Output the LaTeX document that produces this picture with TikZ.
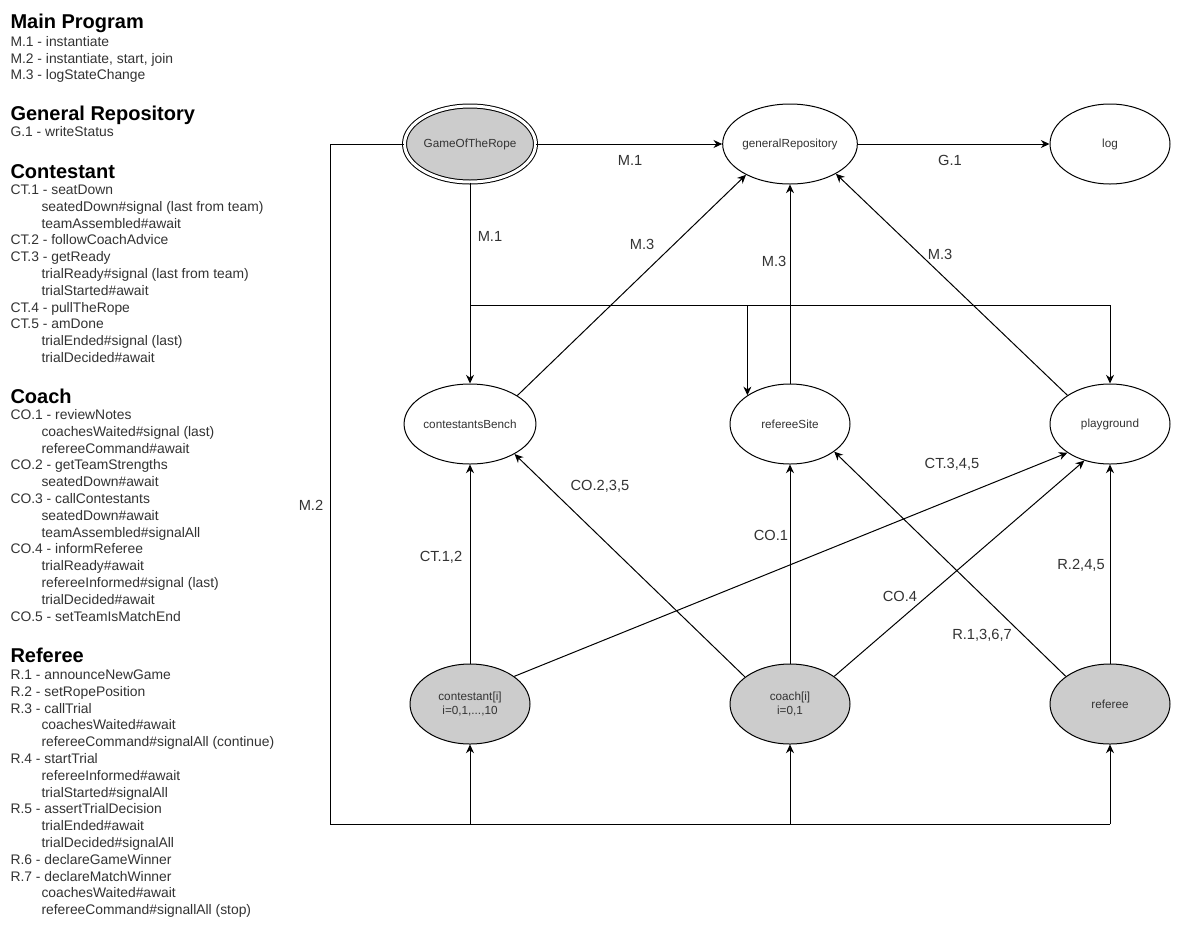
\documentclass[tikz,border=0pt]{standalone}
\usepackage{fontspec}
\setmainfont{Liberation Sans}
\usetikzlibrary{arrows.meta,shapes.geometric}
\definecolor{ctext}{HTML}{333333}
\definecolor{cgray}{HTML}{CCCCCC}
\newcommand\indt{\hspace*{23.25pt}}
\newcommand\rows[1]{\begin{tabular}[t]{@{}l@{}}#1\end{tabular}}

\begin{document}
\begin{tikzpicture}[x=0.75pt, y=-0.75pt, line width=0.75pt,
  state/.style={ellipse, draw, minimum width=90pt, minimum height=60pt, inner sep=0pt,
                align=center, text=ctext, font=\fontsize{8.8}{10.5}\selectfont},
  actor/.style={state, fill=cgray},
  mainprog/.style={actor, double=white, double distance=2.25pt,
                   minimum width=87pt, minimum height=57pt},
  arr/.style={-{Stealth[length=6.5pt,width=6pt]}},
  lbl/.style={inner sep=0pt, text=ctext, font=\fontsize{11}{13}\selectfont},
  hd/.style={anchor=base west, inner sep=0pt, font=\fontsize{15}{18}\selectfont\bfseries},
  items/.style={anchor=base west, inner sep=0pt, text=ctext,
                font=\fontsize{10.4}{12.6}\selectfont}]
\path[use as bounding box, fill=white] (0,0) rectangle (1181,929);
%% legend on the left
\node[hd] (hmain) at (10,28) {Main Program};
\node[items, font=\fontsize{10.4}{12.4}\selectfont] (lmain) at (10,46.5)
  {\rows{M.1 - instantiate\\ M.2 - instantiate, start, join\\ M.3 - logStateChange}};
\node[hd] (hgen) at (10,120) {General Repository};
\node[items] (lgen) at (10,136.5) {G.1 - writeStatus};
\node[hd] (hcon) at (10,178) {Contestant};
\node[items] (lcon) at (10,194.5)
  {\rows{CT.1 - seatDown\\ \indt seatedDown\#signal (last from team)\\ \indt teamAssembled\#await\\
   CT.2 - followCoachAdvice\\ CT.3 - getReady\\ \indt trialReady\#signal (last from team)\\
   \indt trialStarted\#await\\ CT.4 - pullTheRope\\ CT.5 - amDone\\
   \indt trialEnded\#signal (last)\\ \indt trialDecided\#await}};
\node[hd] (hcoa) at (10,403) {Coach};
\node[items] (lcoa) at (10,419.5)
  {\rows{CO.1 - reviewNotes\\ \indt coachesWaited\#signal (last)\\ \indt refereeCommand\#await\\
   CO.2 - getTeamStrengths\\ \indt seatedDown\#await\\ CO.3 - callContestants\\
   \indt seatedDown\#await\\ \indt teamAssembled\#signalAll\\ CO.4 - informReferee\\
   \indt trialReady\#await\\ \indt refereeInformed\#signal (last)\\ \indt trialDecided\#await\\
   CO.5 - setTeamIsMatchEnd}};
\node[hd] (href) at (10,662) {Referee};
\node[items] (lref) at (10,679.5)
  {\rows{R.1 - announceNewGame\\ R.2 - setRopePosition\\ R.3 - callTrial\\
   \indt coachesWaited\#await\\ \indt refereeCommand\#signalAll (continue)\\
   R.4 - startTrial\\ \indt refereeInformed\#await\\ \indt trialStarted\#signalAll\\
   R.5 - assertTrialDecision\\ \indt trialEnded\#await\\ \indt trialDecided\#signalAll\\
   R.6 - declareGameWinner\\ R.7 - declareMatchWinner\\ \indt coachesWaited\#await\\
   \indt refereeCommand\#signallAll (stop)}};
%% entities
\node[mainprog] (game) at (470,144) {GameOfTheRope};
\node[state] (genrep) at (790,144) {generalRepository};
\node[state] (log) at (1110,144) {log};
\node[state] (bench) at (470,424) {contestantsBench};
\node[state] (refsite) at (790,424) {refereeSite};
\node[state] (play) at (1110,424) {playground};
\node[actor] (contestant) at (470,704) {contestant[i]\\ i=0,1,...,10};
\node[actor] (coach) at (790,704) {coach[i]\\ i=0,1};
\node[actor] (referee) at (1110,704) {referee};
%% main program
\coordinate (mbus) at (470,305);
\coordinate (mbl) at (330,824);
\coordinate (mbr) at (1110,824);
\draw[arr] (game) -- (genrep);
\draw[arr] (genrep) -- (log);
\draw[arr] (game) -- (bench);
\draw[arr] (mbus) -| (play);
\draw[arr] (refsite.146 |- mbus) -- (refsite.146);
\draw (game) -| (mbl) -- (mbr);
\draw[arr] (mbr) -- (referee);
\draw[arr] (contestant |- mbl) -- (contestant);
\draw[arr] (coach |- mbl) -- (coach);
%% calls on the shared regions
\draw[arr] (bench.31) -- (genrep.215);
\draw[arr] (refsite) -- (genrep);
\draw[arr] (play.146) -- (genrep.327);
\draw[arr] (contestant) -- (bench);
\draw[arr] (contestant.32) -- (play.214);
\draw[arr] (coach.149) -- (bench.326);
\draw[arr] (coach) -- (refsite);
\draw[arr] (coach.32) -- (play.235);
\draw[arr] (referee.148) -- (refsite.328);
\draw[arr] (referee) -- (play);
%% labels
\node[lbl] (lM1a) at (630,160) {M.1};
\node[lbl] (lG1) at (950,160) {G.1};
\node[lbl] (lM1b) at (490,236) {M.1};
\node[lbl] (lM2) at (311,505) {M.2};
\node[lbl] (lM3a) at (642,244) {M.3};
\node[lbl] (lM3b) at (774,261) {M.3};
\node[lbl] (lM3c) at (940,254) {M.3};
\node[lbl] (lCT12) at (441,557) {CT.1,2};
\node[lbl] (lCT345) at (952,464) {CT.3,4,5};
\node[lbl] (lCO235) at (600,486) {CO.2,3,5};
\node[lbl] (lCO1) at (771,535) {CO.1};
\node[lbl] (lCO4) at (900,596) {CO.4};
\node[lbl] (lR1367) at (982,635) {R.1,3,6,7};
\node[lbl] (lR245) at (1081,565) {R.2,4,5};
\end{tikzpicture}
\end{document}
